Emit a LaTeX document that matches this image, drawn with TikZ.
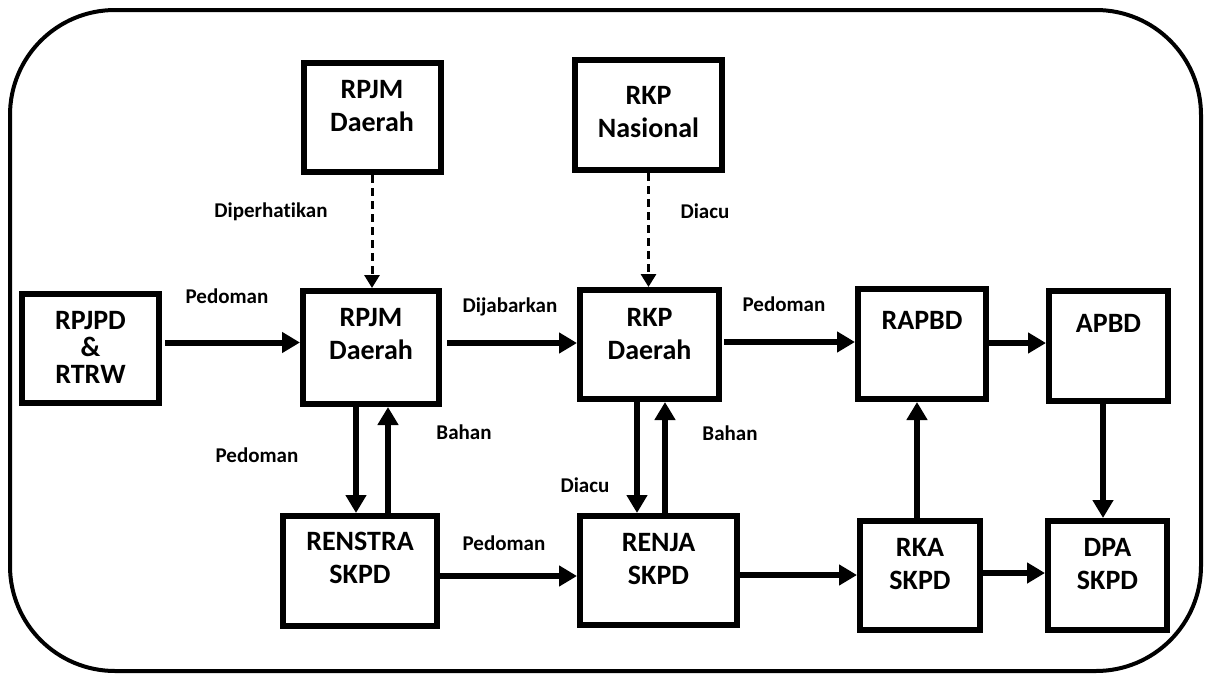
\documentclass[tikz,border=0pt]{standalone}
\usepackage{fontspec}
\setmainfont[Ligatures=NoCommon]{Carlito}
\usetikzlibrary{arrows.meta,calc}
\tikzset{
  box/.style={draw=black, line width=6pt, fill=white, inner sep=0pt},
  boxtext/.style={font=\bfseries\fontsize{28}{33}\selectfont, align=center, inner sep=0pt, anchor=north},
  smalltext/.style={font=\bfseries\fontsize{28}{27}\selectfont, align=center, inner sep=0pt, anchor=north},
  lbl/.style={font=\bfseries\fontsize{21}{24}\selectfont, inner sep=0pt},
  arr/.style={line width=6pt, -{Triangle[length=18pt,width=20pt]}},
  darr/.style={line width=3pt, dash pattern=on 8pt off 5pt, -{Triangle[length=13pt,width=15pt]}},
}
\begin{document}
\begin{tikzpicture}[x=1pt,y=-1pt]
\useasboundingbox (0,0) rectangle (1208,675);
\draw[line width=4pt, rounded corners=105pt] (10,10) rectangle (1201,671);

% boxes (outer extents from reference)
\node[box, minimum width=137pt, minimum height=109pt] (rpjmT) at (372,117.5) {};
\node[box, minimum width=147pt, minimum height=110pt] (rkpN) at (648.5,115) {};
\node[box, minimum width=137pt, minimum height=109pt] (rpjpd) at (90.5,348.5) {};
\node[box, minimum width=136pt, minimum height=113pt] (rpjm) at (371,347.5) {};
\node[box, minimum width=139pt, minimum height=109pt] (rkpd) at (649.5,344.5) {};
\node[box, minimum width=128pt, minimum height=110pt] (rapbd) at (922,344) {};
\node[box, minimum width=119pt, minimum height=110pt] (apbd) at (1108.5,346) {};
\node[box, minimum width=154pt, minimum height=110pt] (renstra) at (360,571) {};
\node[box, minimum width=157pt, minimum height=109pt] (renja) at (658.5,570.5) {};
\node[box, minimum width=120pt, minimum height=109pt] (rka) at (920,575.5) {};
\node[box, minimum width=119pt, minimum height=109pt] (dpa) at (1107.5,575.5) {};

% box texts
\node[boxtext] (trpjmT) at ([yshift=-20pt]rpjmT.north) {RPJM\\Daerah};
\node[boxtext] (trkpN) at ([yshift=-29pt]rkpN.north) {RKP\\Nasional};
\node[smalltext] (trpjpd) at ([yshift=-20pt]rpjpd.north) {RPJPD\\\&\\RTRW};
\node[boxtext] (trpjm) at ([yshift=-20pt]rpjm.north) {RPJM\\Daerah};
\node[boxtext] (trkpd) at ([yshift=-21pt]rkpd.north) {RKP\\Daerah};
\node[boxtext] (trapbd) at ([yshift=-25pt]rapbd.north) {RAPBD};
\node[boxtext] (tapbd) at ([yshift=-26pt]apbd.north) {APBD};
\node[boxtext] (trenstra) at ([yshift=-19pt]renstra.north) {RENSTRA\\SKPD};
\node[boxtext] (trenja) at ([yshift=-20pt]renja.north) {RENJA\\SKPD};
\node[boxtext] (trka) at ([yshift=-20pt]rka.north) {RKA\\SKPD};
\node[boxtext] (tdpa) at ([yshift=-20pt]dpa.north) {DPA\\SKPD};

% dashed arrows
\draw[darr] (rpjmT.south) -- (rpjmT.south |- rpjm.north);
\draw[darr] (rkpN.south) -- (rkpN.south |- rkpd.north);

% horizontal arrows
\draw[arr, shorten <=3pt] (rpjpd.east |- 0,342.5) -- (rpjm.west |- 0,342.5);
\draw[arr, shorten <=5pt] (rpjm.east |- 0,343) -- (rkpd.west |- 0,343);
\draw[arr, shorten <=2pt] (rkpd.east |- 0,342) -- (rapbd.west |- 0,342);
\draw[arr] (rapbd.east |- 0,343) -- (apbd.west |- 0,343);
\draw[arr] (renstra.east |- 0,576) -- (renja.west |- 0,576);
\draw[arr] (renja.east |- 0,575) -- (rka.west |- 0,575);
\draw[arr] (rka.east |- 0,573) -- (dpa.west |- 0,573);

% vertical arrows
\draw[arr] (rpjm.south -| 356,0) -- (renstra.north -| 356,0);
\draw[arr] (renstra.north -| 388,0) -- (rpjm.south -| 388,0);
\draw[arr] (rkpd.south -| 637,0) -- (renja.north -| 637,0);
\draw[arr] (renja.north -| 665,0) -- (rkpd.south -| 665,0);
\draw[arr] (rka.north -| 917,0) -- (rapbd.south -| 917,0);
\draw[arr] (apbd.south -| 1103,0) -- (dpa.north -| 1103,0);

% labels
\node[lbl] (l1) at (271,212) {Diperhatikan};
\node[lbl] (l2) at (705,211) {Diacu};
\node[lbl] (l3) at (227,296) {Pedoman};
\node[lbl] (l4) at (510,307) {Dijabarkan};
\node[lbl] (l5) at (784,304) {Pedoman};
\node[lbl] (l6) at (464,432) {Bahan};
\node[lbl] (l7) at (257,455) {Pedoman};
\node[lbl] (l8) at (730,433) {Bahan};
\node[lbl] (l9) at (585,485) {Diacu};
\node[lbl] (l10) at (504,543) {Pedoman};
\end{tikzpicture}
\end{document}
